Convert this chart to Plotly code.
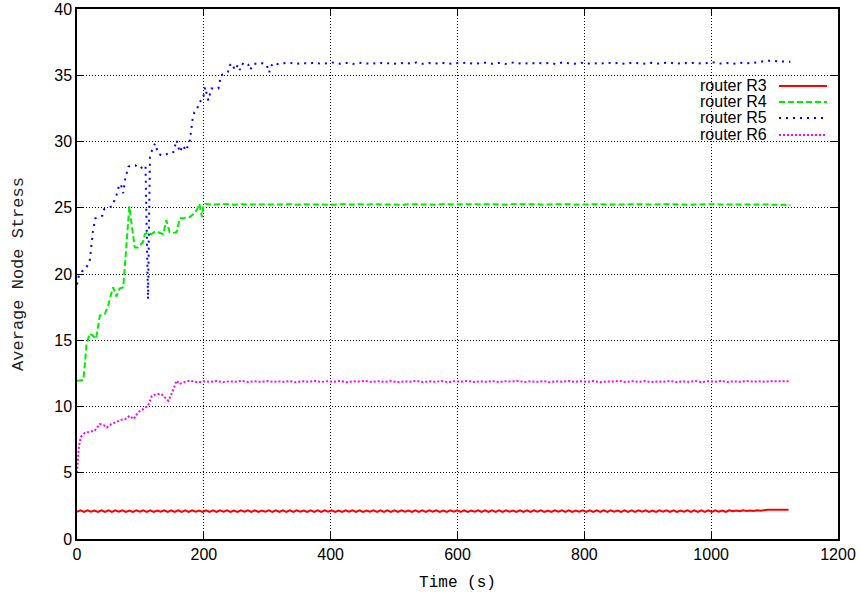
import numpy as np
import plotly.graph_objects as go

# ---- router R3: sampled every 5.5 s ----
r3_t = np.arange(205) * 5.5
r3_v = [
    2.05, 2.16, 2.04, 2.17, 2.06, 2.15, 2.04, 2.17, 2.05, 2.16,
    2.04, 2.16, 2.06, 2.17, 2.05, 2.15, 2.04, 2.16, 2.06, 2.17,
    2.05, 2.17, 2.04, 2.15, 2.06, 2.16, 2.05, 2.17, 2.04, 2.16,
    2.05, 2.16, 2.04, 2.17, 2.06, 2.15, 2.04, 2.17, 2.05, 2.16,
    2.04, 2.16, 2.06, 2.17, 2.05, 2.15, 2.04, 2.16, 2.06, 2.17,
    2.05, 2.17, 2.04, 2.15, 2.06, 2.16, 2.05, 2.17, 2.04, 2.16,
    2.05, 2.16, 2.04, 2.17, 2.06, 2.15, 2.04, 2.17, 2.05, 2.16,
    2.04, 2.16, 2.06, 2.17, 2.05, 2.15, 2.04, 2.16, 2.06, 2.17,
    2.05, 2.17, 2.04, 2.15, 2.06, 2.16, 2.05, 2.17, 2.04, 2.16,
    2.05, 2.16, 2.04, 2.17, 2.06, 2.15, 2.04, 2.17, 2.05, 2.16,
    2.04, 2.16, 2.06, 2.17, 2.05, 2.15, 2.04, 2.16, 2.06, 2.17,
    2.05, 2.17, 2.04, 2.15, 2.06, 2.16, 2.05, 2.17, 2.04, 2.16,
    2.05, 2.16, 2.04, 2.17, 2.06, 2.15, 2.04, 2.17, 2.05, 2.16,
    2.04, 2.16, 2.06, 2.17, 2.05, 2.15, 2.04, 2.16, 2.06, 2.17,
    2.05, 2.17, 2.04, 2.15, 2.06, 2.16, 2.05, 2.17, 2.04, 2.16,
    2.05, 2.16, 2.04, 2.17, 2.06, 2.15, 2.04, 2.17, 2.05, 2.16,
    2.04, 2.16, 2.06, 2.17, 2.05, 2.15, 2.04, 2.16, 2.06, 2.17,
    2.05, 2.17, 2.04, 2.15, 2.06, 2.16, 2.05, 2.17, 2.04, 2.16,
    2.05, 2.16, 2.04, 2.17, 2.06, 2.15, 2.04, 2.17,
    2.09, 2.15, 2.10, 2.16, 2.11, 2.15, 2.12, 2.17, 2.13, 2.18,
    2.20, 2.20, 2.20, 2.20, 2.20, 2.20, 2.20,
]

# ---- steady-state grid shared by R4, R5, R6 (every 10 s) ----
late_t = np.arange(325, 1126, 10)

# ---- router R4 ----
r4_t_early = [0, 4, 10, 13, 15, 20, 25, 30, 33, 36, 44, 49, 54, 57, 62, 67, 73,
              77, 80, 82.5, 86, 91, 96, 100, 104, 107, 112, 117, 123, 128, 136,
              141, 146, 151, 157, 162, 168, 173, 178, 183, 189, 193, 197, 199,
              202, 210, 220, 230, 240, 250, 260, 270, 280, 290, 300, 310, 317]
r4_v_early = [11.95, 11.95, 12.0, 13.5, 14.7, 15.5, 15.35, 15.1, 16.2, 16.86,
              17.0, 17.6, 18.5, 19.0, 18.3, 18.9, 19.0, 21.3, 23.5, 25.1, 23.8,
              22.0, 22.0, 22.2, 22.4, 23.0, 23.15, 23.0, 23.2, 23.15, 23.0,
              24.05, 23.15, 23.1, 23.15, 24.2, 24.2, 24.3, 24.3, 24.5, 24.85,
              25.3, 24.3, 25.05, 25.3, 25.25, 25.27, 25.24, 25.26, 25.23, 25.27,
              25.25, 25.24, 25.27, 25.25, 25.23, 25.26]
r4_v_late = [
    25.24, 25.27, 25.23, 25.26, 25.25, 25.27, 25.24, 25.26, 25.23, 25.27,
    25.25, 25.24, 25.27, 25.23, 25.26, 25.25, 25.27, 25.24, 25.26, 25.23,
    25.27, 25.25, 25.24, 25.26, 25.23, 25.27, 25.25, 25.24, 25.27, 25.26,
    25.23, 25.25, 25.27, 25.24, 25.26, 25.23, 25.27, 25.25, 25.24, 25.26,
    25.27, 25.23, 25.25, 25.26, 25.24, 25.27, 25.23, 25.25, 25.26, 25.24,
    25.27, 25.25, 25.23, 25.26, 25.24, 25.27, 25.25, 25.23, 25.26, 25.24,
    25.27, 25.25, 25.24, 25.26, 25.23, 25.25, 25.27, 25.24, 25.26, 25.25,
    25.23, 25.26, 25.24, 25.25, 25.26, 25.24, 25.25, 25.23, 25.24, 25.22,
    25.20,
]

# ---- router R5 ----
r5_t_early = [0, 3, 8, 14, 20, 25, 29, 35, 40, 43, 50, 55, 62, 66, 69, 73, 76,
              81, 86, 92, 99, 104, 108, 112, 115, 118, 123, 128, 133, 140, 147,
              152, 157, 162, 167, 172, 178, 182, 185, 189, 193, 197, 199, 202,
              207, 212, 217, 223, 227, 233, 238, 241, 244, 249, 254, 257, 262,
              266, 270, 273, 278, 284, 289, 294, 299, 303, 306, 310, 317]
r5_v_early = [19.2, 19.9, 20.2, 20.4, 21.0, 23.2, 24.2, 24.3, 24.4, 24.9, 25.0,
              25.1, 25.9, 26.6, 26.8, 26.1, 27.2, 28.1, 28.2, 28.2, 27.95, 28.1,
              28.2, 18.1, 28.8, 29.3, 29.85, 29.1, 28.95, 29.0, 29.2, 29.2, 30.1,
              29.2, 29.7, 29.3, 30.1, 31.6, 32.2, 32.4, 33.0, 33.1, 33.3, 34.1,
              33.1, 34.0, 34.0, 34.0, 35.0, 35.1, 35.25, 35.76, 35.9, 35.4, 35.8,
              35.4, 35.94, 35.9, 35.8, 35.4, 35.84, 35.9, 35.94, 35.88, 35.8,
              35.2, 35.7, 35.94, 35.84]
r5_v_late = [
    35.90, 35.95, 35.85, 35.93, 35.88, 35.96, 35.86, 35.92, 35.97, 35.87,
    35.93, 35.85, 35.95, 35.90, 35.86, 35.96, 35.88, 35.92, 35.85, 35.94,
    35.89, 35.97, 35.86, 35.92, 35.88, 35.95, 35.85, 35.93, 35.90, 35.96,
    35.86, 35.91, 35.95, 35.87, 35.93, 35.85, 35.96, 35.89, 35.92, 35.86,
    35.95, 35.88, 35.93, 35.85, 35.97, 35.90, 35.87, 35.94, 35.88, 35.92,
    35.86, 35.96, 35.89, 35.93, 35.85, 35.95, 35.90, 35.87, 35.94, 35.88,
    35.92, 35.96, 35.86, 35.93, 35.89, 35.95, 35.87, 35.92, 35.97, 35.88,
    35.93, 35.86, 35.95, 35.90, 35.94, 35.98, 36.08, 36.10, 36.05, 36.02,
    36.02,
]

# ---- router R6 ----
r6_t_early = [0, 3, 6, 12, 20, 28, 33, 36, 42, 47, 54, 60, 65, 70, 76, 83, 89,
              96, 104, 112, 118, 125, 133, 139, 144, 149, 154, 157, 162, 167,
              172, 178, 185, 191, 200, 210, 220, 230, 240, 250, 260, 270, 280,
              290, 300, 310, 317]
r6_v_early = [5.0, 7.0, 7.7, 8.0, 8.1, 8.17, 8.5, 8.67, 8.6, 8.42, 8.67, 8.8,
              8.92, 9.0, 9.05, 9.3, 9.05, 9.55, 9.8, 10.06, 10.8, 10.94, 10.94,
              10.7, 10.43, 10.94, 11.57, 11.95, 11.7, 11.82, 11.9, 11.95, 11.88,
              11.82, 11.9, 11.86, 11.92, 11.84, 11.9, 11.87, 11.93, 11.85, 11.9,
              11.86, 11.92, 11.85, 11.9]
r6_v_late = [
    11.86, 11.92, 11.84, 11.90, 11.87, 11.93, 11.85, 11.91, 11.86, 11.92,
    11.84, 11.90, 11.88, 11.93, 11.85, 11.91, 11.86, 11.92, 11.84, 11.89,
    11.87, 11.93, 11.85, 11.90, 11.86, 11.92, 11.84, 11.91, 11.87, 11.93,
    11.85, 11.90, 11.86, 11.92, 11.84, 11.91, 11.88, 11.93, 11.85, 11.90,
    11.86, 11.92, 11.84, 11.90, 11.87, 11.93, 11.85, 11.91, 11.86, 11.92,
    11.84, 11.90, 11.88, 11.93, 11.85, 11.91, 11.86, 11.92, 11.84, 11.89,
    11.87, 11.93, 11.85, 11.90, 11.86, 11.92, 11.84, 11.91, 11.87, 11.93,
    11.85, 11.90, 11.86, 11.92, 11.88, 11.90, 11.87, 11.91, 11.89, 11.90,
    11.90,
]

series_names = ["router R3", "router R4", "router R5", "router R6"]
series_colors = ["#ff0000", "#00ee00", "#0000ff", "#ff00ff"]
series_dash = ["solid", "6px,3px", "2px,5px", "2px,2px"]

xs = [r3_t,
      np.concatenate([r4_t_early, late_t]),
      np.concatenate([r5_t_early, late_t]),
      np.concatenate([r6_t_early, late_t])]
ys = [r3_v,
      r4_v_early + r4_v_late,
      r5_v_early + r5_v_late,
      r6_v_early + r6_v_late]

fig = go.Figure()
for x, y, name, col, dash in zip(xs, ys, series_names, series_colors, series_dash):
    fig.add_trace(go.Scatter(x=x, y=y, mode="lines", name=name, showlegend=False,
                             line=dict(color=col, width=2, dash=dash)))

# key box (drawn over the grid, under the curves) with text to the left of each sample
L, R, T, B = 77, 838, 9, 539
def px(xp):
    return (xp - L) / (R - L)
def py(yp):
    return (B - yp) / (B - T)

shapes = [dict(type="rect", xref="paper", yref="paper", layer="between",
               x0=px(679), x1=px(837), y0=py(143), y1=py(77),
               fillcolor="white", line=dict(width=0))]
annotations = []
row_y = [86, 102, 118, 135]
for name, col, dash, yy in zip(series_names, series_colors, series_dash, row_y):
    annotations.append(dict(text=name, xref="paper", yref="paper", x=px(769), y=py(yy),
                            xanchor="right", yanchor="middle", showarrow=False,
                            font=dict(family="Liberation Sans, Arial", size=16, color="black")))
    shapes.append(dict(type="line", xref="paper", yref="paper", layer="above",
                       x0=px(779), x1=px(827), y0=py(yy), y1=py(yy),
                       line=dict(color=col, width=2, dash=dash)))

axis_common = dict(showline=True, linecolor="black", linewidth=1.5, mirror="allticks",
                   ticks="inside", ticklen=7, tickcolor="black", tickwidth=1,
                   showgrid=True, gridcolor="black", gridwidth=1, griddash="1px,2px",
                   zeroline=False, automargin=False,
                   tickfont=dict(family="Liberation Sans, Arial", size=16, color="black"))

fig.update_layout(
    width=860, height=592,
    margin=dict(l=L, r=860 - R, t=T, b=592 - B),
    paper_bgcolor="white", plot_bgcolor="white",
    xaxis=dict(range=[0, 1200], dtick=200, tick0=0,
               title=dict(text="Time (s)", standoff=18,
                          font=dict(family="Liberation Mono, Courier New", size=16, color="black")),
               **axis_common),
    yaxis=dict(range=[0, 40], dtick=5, tick0=0,
               title=dict(text="Average Node Stress", standoff=26,
                          font=dict(family="Liberation Mono, Courier New", size=17, color="#222222")),
               **axis_common),
    shapes=shapes,
    annotations=annotations,
)

fig.write_html("out.html")
